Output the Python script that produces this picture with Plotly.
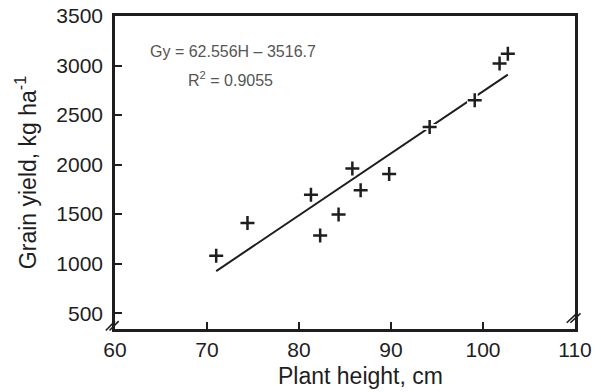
import plotly.graph_objects as go

# Data
plant_height = [71.0, 74.4, 81.3, 82.3, 84.3, 85.8, 86.7, 89.8, 94.2, 99.1, 101.8, 102.7]
grain_yield = [1080, 1410, 1695, 1285, 1495, 1960, 1740, 1905, 2380, 2650, 3020, 3120]

slope = 62.556
intercept = -3516.7
fit_x_range = [71.0, 102.7]
fit_y = [slope * x + intercept for x in fit_x_range]

x_ticks = [60, 70, 80, 90, 100, 110]
y_ticks = [500, 1000, 1500, 2000, 2500, 3000, 3500]

ink = "#1e1e1e"
font_family = "Liberation Sans, Arial, sans-serif"

fig = go.Figure()

fig.add_trace(go.Scatter(
    x=fit_x_range, y=fit_y, mode="lines",
    line=dict(color=ink, width=2), hoverinfo="skip", showlegend=False))

# white halo behind crosses (creates gaps in the line)
fig.add_trace(go.Scatter(
    x=plant_height, y=grain_yield, mode="markers",
    marker=dict(symbol="cross-thin", size=11, line=dict(color="white", width=6)),
    hoverinfo="skip", showlegend=False))

fig.add_trace(go.Scatter(
    x=plant_height, y=grain_yield, mode="markers",
    marker=dict(symbol="cross-thin", size=10, line=dict(color=ink, width=2.5)),
    showlegend=False))

axis_common = dict(
    showline=True, linecolor=ink, linewidth=2.5, mirror=True,
    ticks="inside", ticklen=7, tickwidth=2, tickcolor=ink,
    showgrid=False, zeroline=False, automargin=False,
    tickfont=dict(family=font_family, size=21, color=ink),
)

fig.update_xaxes(range=[60, 110], tickvals=x_ticks, ticktext=[str(v) for v in x_ticks],
                 ticklabelstandoff=0, **axis_common)
fig.update_yaxes(range=[340, 3500], tickvals=y_ticks, ticktext=[str(v) for v in y_ticks],
                 ticklabelstandoff=5,
                 title=dict(text="Grain yield, kg ha<sup>-1</sup>",
                            font=dict(family=font_family, size=23, color=ink), standoff=14),
                 **axis_common)

annotations = [
    dict(text="Plant height, cm", xref="paper", yref="paper", x=0.533, y=-0.15,
         xanchor="center", yanchor="middle", showarrow=False,
         font=dict(family=font_family, size=23, color=ink)),
    dict(text="Gy = 62.556H \u2013 3516.7", xref="paper", yref="paper", x=0.257, y=0.885,
         xanchor="center", yanchor="middle", showarrow=False,
         font=dict(family=font_family, size=16, color="#555555")),
    dict(text="R<sup>2</sup> = 0.9055", xref="paper", yref="paper", x=0.252, y=0.80,
         xanchor="center", yanchor="middle", showarrow=False,
         font=dict(family=font_family, size=16, color="#555555")),
]

# axis-break marks (double slashes) near bottom corners
shapes = []
for dx in (-0.008, 0.0):
    shapes.append(dict(type="line", xref="paper", yref="paper",
                       x0=-0.012 + dx, y0=-0.005, x1=0.008 + dx, y1=0.025,
                       line=dict(color=ink, width=1.6)))
    shapes.append(dict(type="line", xref="paper", yref="paper",
                       x0=0.99 + dx, y0=0.02, x1=1.012 + dx, y1=0.05,
                       line=dict(color=ink, width=1.6)))

fig.update_layout(
    width=601, height=392,
    margin=dict(l=115, r=26, t=16, b=63, autoexpand=False),
    paper_bgcolor="white", plot_bgcolor="white",
    annotations=annotations, shapes=shapes,
    font=dict(family=font_family, color=ink),
)

fig.write_html("out.html")
